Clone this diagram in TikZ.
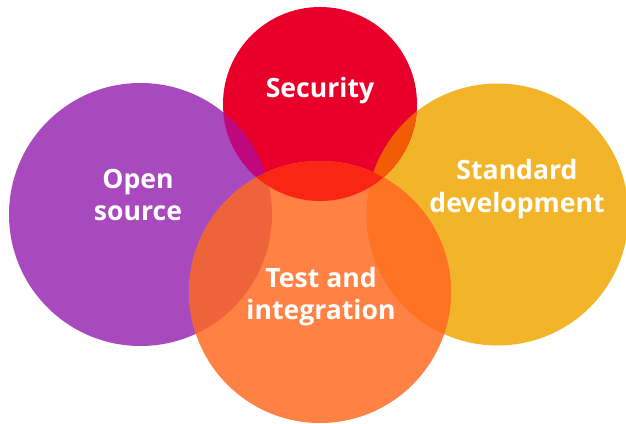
\documentclass[tikz,border=0pt]{standalone}
\usepackage{fontspec}
\setmainfont{Open Sans}
\definecolor{opencol}{HTML}{A849BE}
\definecolor{seccol}{HTML}{E8002A}
\definecolor{stdcol}{HTML}{F2B52A}
\definecolor{testcol}{HTML}{FF8144}
\definecolor{opensec}{HTML}{C0087E}
\definecolor{sectest}{HTML}{FA2614}
\definecolor{secstd}{HTML}{F25C05}
\definecolor{opentest}{HTML}{EF633A}
\definecolor{stdtest}{HTML}{FE7322}
\def\opencirc{(140.5,208.5) circle [radius=131.5]}
\def\seccirc{(320,319) circle [radius=97]}
\def\stdcirc{(497.5,208.5) circle [radius=131]}
\def\testcirc{(320,131) circle [radius=131]}
\tikzset{label text/.style={text=white,font=\bfseries\fontsize{13.3}{16.3}\selectfont,align=center}}
\begin{document}
\begin{tikzpicture}[x=0.5pt,y=0.5pt]
    \useasboundingbox (0,0) rectangle (626,423);
    % the four circles
    \fill [opencol] \opencirc;
    \fill [stdcol] \stdcirc;
    \fill [seccol] \seccirc;
    \fill [testcol] \testcirc;
    % overlaps
    \begin{scope} \clip \opencirc; \fill [opensec] \seccirc; \end{scope}
    \begin{scope} \clip \stdcirc; \fill [secstd] \seccirc; \end{scope}
    \begin{scope} \clip \opencirc; \fill [opentest] \testcirc; \end{scope}
    \begin{scope} \clip \stdcirc; \fill [stdtest] \testcirc; \end{scope}
    \begin{scope} \clip \seccirc; \fill [sectest] \testcirc; \end{scope}
    % labels
    \node [label text,anchor=base] (sec) at (320,325) {Security};
    \node [label text] (open) at (138,228) {Open\\source};
    \node [label text] (std) at (517,234) {Standard\\development};
    \node [label text] (test) at (321,126.5) {Test and\\integration};
\end{tikzpicture}
\end{document}
